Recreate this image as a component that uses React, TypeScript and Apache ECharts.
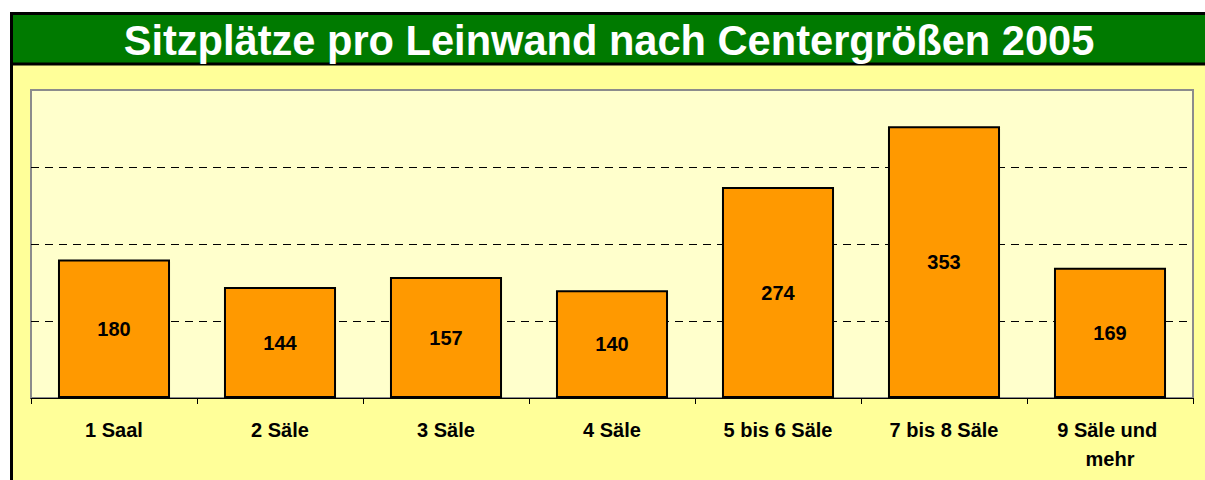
import React, { useEffect, useRef } from "react";
import * as echarts from "echarts";

const titleText = "Sitzplätze pro Leinwand nach Centergrößen 2005";
const categories = ["1 Saal", "2 Säle", "3 Säle", "4 Säle", "5 bis 6 Säle", "7 bis 8 Säle", "9 Säle und mehr"];
const seatsPerScreen = [180, 144, 157, 140, 274, 353, 169];

export default function App() {
  const ref = useRef<HTMLDivElement>(null);
  useEffect(() => {
    if (!ref.current) return;
    const chart = echarts.init(ref.current, null, { renderer: "svg" });
    const font = "'Liberation Sans', Arial, sans-serif";
    chart.setOption({
      animation: false,
      backgroundColor: "#ffffff",
      graphic: [
        { type: "rect", z: -10, shape: { x: 11.5, y: 13.5, width: 1200, height: 480 }, style: { fill: "#FFFF99", stroke: "#000", lineWidth: 3 } },
        { type: "rect", z: -9, shape: { x: 13, y: 15, width: 1200, height: 48 }, style: { fill: "#007A00" } },
        { type: "line", z: -8, shape: { x1: 11, y1: 64, x2: 1210, y2: 64 }, style: { stroke: "#000", lineWidth: 3 } },
        { type: "text", z: 10, x: 609, y: 40, style: { text: titleText, fill: "#fff", font: `bold 41.6px ${font}`, textAlign: "center", textVerticalAlign: "middle" } },
      ],
      grid: { left: 31, right: 12, top: 90, bottom: 82, show: true, backgroundColor: "#FFFFCC", borderColor: "#8c8c8c", borderWidth: 2 },
      xAxis: {
        type: "category",
        data: categories,
        axisLine: { lineStyle: { color: "#000", width: 1 } },
        axisTick: { show: true, interval: 0, length: 6, lineStyle: { color: "#000" } },
        axisLabel: { interval: 0, color: "#000", fontFamily: font, fontWeight: "bold", fontSize: 20, margin: 17, width: 140, overflow: "break", lineHeight: 29 },
      },
      yAxis: {
        type: "value",
        min: 0,
        max: 400,
        interval: 100,
        axisLine: { show: false },
        axisTick: { show: false },
        axisLabel: { show: false },
        splitLine: { showMaxLine: false, showMinLine: false, lineStyle: { color: "#000", type: [8, 6], width: 1 } },
      },
      series: [
        {
          type: "bar",
          data: seatsPerScreen,
          barCategoryGap: "32.5%",
          itemStyle: { color: "#FF9900", borderColor: "#000", borderWidth: 2 },
          label: { show: true, position: "inside", color: "#000", fontFamily: font, fontWeight: "bold", fontSize: 20 },
        },
      ],
    });
    return () => chart.dispose();
  }, []);
  return <div ref={ref} style={{ position: "fixed", left: 0, top: 0, width: 1205, height: 480 }} />;
}
